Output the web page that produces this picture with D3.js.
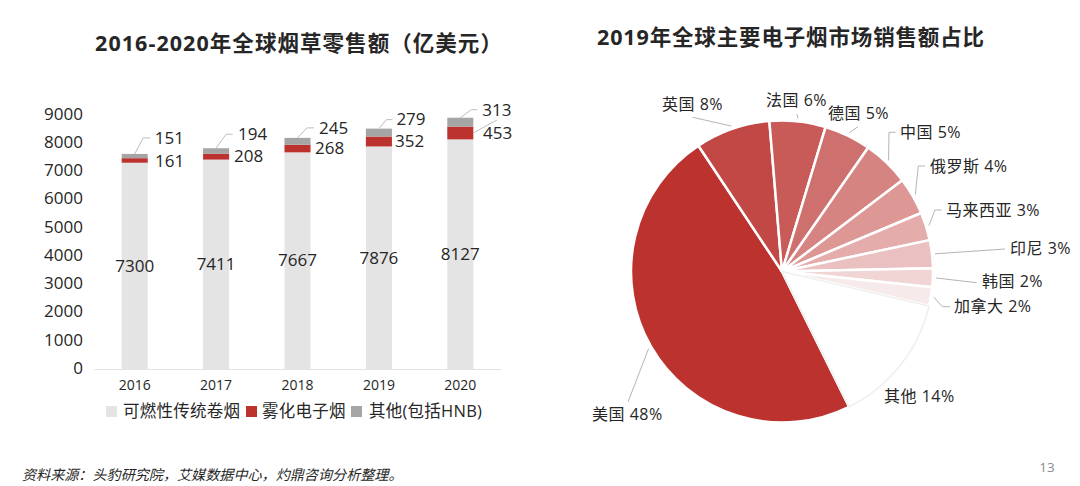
<!DOCTYPE html>
<html>
<head>
<meta charset="utf-8">
<script src="https://cdn.jsdelivr.net/npm/d3@7"></script>
<style>
  html, body { margin: 0; padding: 0; background: #fff; }
  text { font-family: "Open Sans", "Noto Sans CJK SC", sans-serif; fill: #262626; }
</style>
</head>
<body>
<div id="chart"></div>
<script>
// bar chart values (100m USD)
const years = ["2016", "2017", "2018", "2019", "2020"]
const cigarettes = [7300, 7411, 7667, 7876, 8127]
const vapor = [161, 208, 268, 352, 453]
const others = [151, 194, 245, 279, 313]
const seriesNames = ["可燃性传统卷烟", "雾化电子烟", "其他(包括HNB)"]
const yTicks = [0, 1000, 2000, 3000, 4000, 5000, 6000, 7000, 8000, 9000]

// pie chart values (%)
const markets = ["美国", "英国", "法国", "德国", "中国", "俄罗斯", "马来西亚", "印尼", "韩国", "加拿大", "其他"]
const shares = [48, 8, 6, 5, 5, 4, 3, 3, 2, 2, 14]

const barColors = ["#e4e4e4", "#bc322f", "#a5a5a5"]
const pieColors = ["#bb322f", "#c24845", "#c85b58", "#ce706d", "#d58481", "#dd9896", "#e4adac", "#ebc0c0", "#f1d5d5", "#f6eaea", "#ffffff"]

const svg = d3.select("#chart").append("svg")
    .attr("width", 1080)
    .attr("height", 486)

// titles
svg.append("text")
    .attr("x", 299).attr("y", 43.5)
    .attr("dy", ".36em")
    .style("text-anchor", "middle")
    .style("font-size", "21.5px")
    .style("font-weight", 700)
    .style("letter-spacing", "1.05px")
    .text("2016-2020年全球烟草零售额（亿美元）")

svg.append("text")
    .attr("x", 791).attr("y", 37.5)
    .attr("dy", ".36em")
    .style("text-anchor", "middle")
    .style("font-size", "21.5px")
    .style("font-weight", 700)
    .style("letter-spacing", "0.85px")
    .text("2019年全球主要电子烟市场销售额占比")

// stacked bars
const x = d3.scaleBand().domain(years).range([94, 501]).paddingInner(0.68).paddingOuter(0.34)
const y = d3.scaleLinear().domain([0, 9000]).range([369, 114.7])

const rows = years.map((year, i) => ({ year, a: cigarettes[i], b: vapor[i], c: others[i] }))
const stack = d3.stack().keys(["a", "b", "c"])(rows)

svg.selectAll(".layer")
    .data(stack)
    .enter().append("g")
    .attr("class", "layer")
    .attr("fill", (d, i) => barColors[i])
    .selectAll("rect")
    .data(d => d)
    .enter().append("rect")
    .attr("x", d => x(d.data.year))
    .attr("width", x.bandwidth())
    .attr("y", d => y(d[1]))
    .attr("height", d => y(d[0]) - y(d[1]))

// axes
const yAxis = svg.append("g")
    .attr("transform", "translate(86,-1)")
    .call(d3.axisLeft(y).tickValues(yTicks).tickSize(0).tickPadding(3).tickFormat(d3.format("d")))
yAxis.select(".domain").remove()
yAxis.selectAll("text")
    .style("font-size", "17px")
    .style("font-family", "'Open Sans', sans-serif")
    .attr("fill", "#262626")

const xAxis = svg.append("g")
    .attr("transform", "translate(0,369)")
    .call(d3.axisBottom(x).tickSize(0).tickPadding(11))
xAxis.select(".domain").attr("stroke", "#e2e2e2").attr("stroke-width", 1.2)
xAxis.selectAll("text").style("font-size", "14px")

// value labels, offsets are from the bar centre / the top of the segment
const cx = i => x(years[i]) + x.bandwidth() / 2
const otherTop = i => y(cigarettes[i] + vapor[i] + others[i])
const vaporMid = i => y(cigarettes[i] + vapor[i] / 2)

const otherOffsets = [[8.5, -16, 15.5, 20], [10, -14, 16.5, 22], [9.5, -10, 16.5, 21.5], [7.5, -9, 13.5, 17.5], [11, -8, 17, 22]]
const vaporLabelX = [155, 234, 315, 395, 483]
const vaporLabelDy = [1, 0, 0, 0, 0]

const leader = d3.line()
const label = (tx, ty, t, size, dy = ".34em") => svg.append("text")
    .attr("x", tx).attr("y", ty).attr("dy", dy)
    .style("font-size", size).text(t)

years.forEach((yr, i) => {
    const o = otherOffsets[i]
    const px = cx(i), py = otherTop(i)
    svg.append("path")
        .attr("d", leader([[px, py], [px + o[0], py + o[1]], [px + o[2], py + o[1]]]))
        .attr("fill", "none").attr("stroke", "#bdbdbd").attr("stroke-width", 1)
    label(px + o[3], py + o[1], others[i], "17px")
    label(vaporLabelX[i], vaporMid(i) + vaporLabelDy[i], vapor[i], "17px")
    label(px, y(cigarettes[i] / 2), cigarettes[i], "17px").style("text-anchor", "middle")
})

// the 2020 vapor label sits outside the bar, so it has its own leader
svg.append("path")
    .attr("d", leader([[x("2020") + x.bandwidth(), vaporMid(4)], [497, 120]]))
    .attr("fill", "none").attr("stroke", "#bdbdbd").attr("stroke-width", 1)

// legend
const legendX = [106, 246, 351]
const legendTextX = [123, 262, 369]
seriesNames.forEach((name, i) => {
    svg.append("rect")
        .attr("x", legendX[i]).attr("y", 406)
        .attr("width", 11).attr("height", 11)
        .attr("fill", barColors[i])
    svg.append("text")
        .attr("x", legendTextX[i]).attr("y", 411.5).attr("dy", ".36em")
        .style("font-size", "16.5px")
        .style("letter-spacing", "0.25px")
        .text(name)
})

// pie
const cxPie = 782, cyPie = 271.5, rPie = 151
const startDeg = 153.6
const pie = d3.pie().sort(null)
    .startAngle(startDeg * Math.PI / 180)
    .endAngle((startDeg + 360) * Math.PI / 180)
const arcs = pie(shares)
const arc = d3.arc().innerRadius(0).outerRadius(rPie)
const edge = d3.arc().innerRadius(rPie + 3).outerRadius(rPie + 3)

const pieG = svg.append("g").attr("transform", `translate(${cxPie},${cyPie})`)

pieG.selectAll("path")
    .data(arcs)
    .enter().append("path")
    .attr("d", arc)
    .attr("fill", (d, i) => pieColors[i])
    .attr("stroke", "#fff")
    .attr("stroke-width", 2.5)
    .attr("stroke-linejoin", "round")

// "other" slice is white, only a faint outline shows
pieG.append("path")
    .datum(arcs[10])
    .attr("d", arc)
    .attr("fill", "none")
    .attr("stroke", "#efefef")
    .attr("stroke-width", 1.5)

// [label x, label y, elbow points...]
const pieLabels = [
    [592, 414, [628, 402]],
    [662, 104, [692.7, 117.3]],
    [766, 100, [796.7, 114]],
    [828, 113, [858, 126.7]],
    [900, 132, [895.7, 132.3], [889, 132.3]],
    [930, 166, [925, 166], [918.3, 166]],
    [946, 210, [941.7, 210], [935, 210]],
    [1010, 248, [1005, 249]],
    [982, 281, [976.7, 282.7]],
    [954, 306, [950, 306.7], [942.3, 306.7]],
    [884, 396]
]

pieLabels.forEach((p, i) => {
    const c = edge.centroid(arcs[i])
    const pts = p.slice(2).concat([[cxPie + c[0], cyPie + c[1]]])
    if (pts.length > 1) {
        svg.append("path")
            .attr("d", leader(pts))
            .attr("fill", "none").attr("stroke", "#b5b5b5").attr("stroke-width", 1)
    }
    label(p[0], p[1], `${markets[i]} ${shares[i]}%`, "16px", ".36em").style("letter-spacing", "0.5px")
})

// footer
svg.append("text")
    .attr("x", 22).attr("y", 475).attr("dy", ".36em")
    .style("font-size", "14.1px")
    .style("font-style", "italic")
    .text("资料来源：头豹研究院，艾媒数据中心，灼鼎咨询分析整理。")

svg.append("text")
    .attr("x", 1047).attr("y", 467).attr("dy", ".36em")
    .style("text-anchor", "middle")
    .style("font-size", "13.5px")
    .style("fill", "#8c8c8c")
    .text("13")
</script>
</body>
</html>
